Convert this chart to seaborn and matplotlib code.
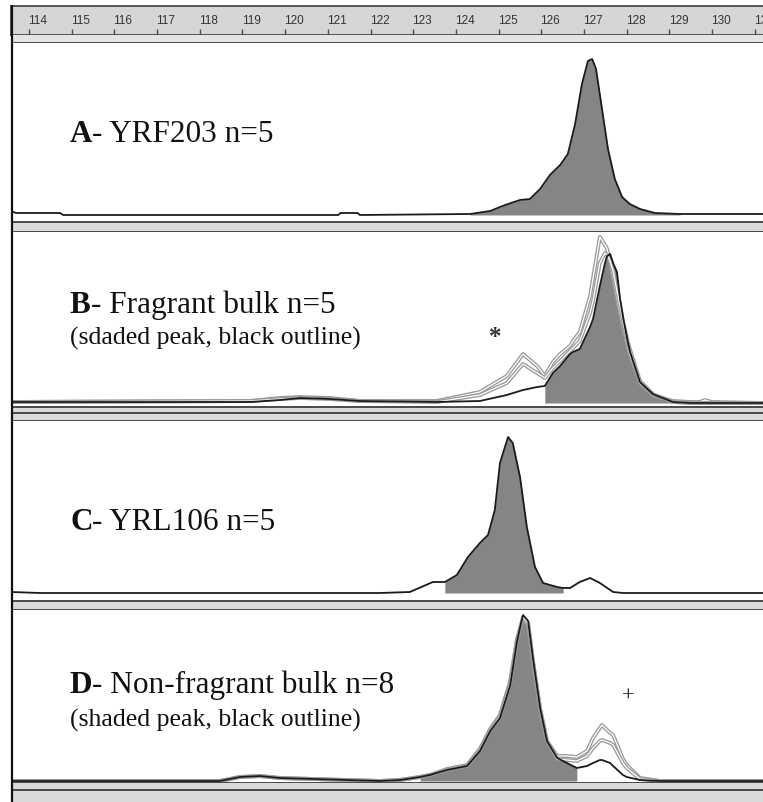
import numpy as np
import pandas as pd
import seaborn as sns
import matplotlib.pyplot as plt
from matplotlib.lines import Line2D

# size ruler (bp)
ruler_ticks = list(range(114, 132))

# A- YRF203 : fragment size vs. signal (px above baseline)
a_size = [113.58, 113.70, 114.73, 114.80, 121.24, 121.30, 121.70, 121.75, 124.33, 124.80,
          125.15, 125.50, 125.73, 125.97, 126.20, 126.44, 126.62, 126.79, 126.95, 127.09,
          127.19, 127.28, 127.42, 127.56, 127.72, 127.89, 128.07, 128.31, 128.66, 129.25, 131.19]
a_signal = [4, 2, 2, 0, 0, 2, 2, 0, 1, 4,
            10, 15, 16, 26, 40, 50, 61, 91, 131, 154,
            156, 146, 106, 66, 36, 18, 11, 6, 2, 1, 1]

# B- Fragrant bulk : black trace + two light traces
b_size = [113.58, 119.18, 119.88, 120.35, 121.05, 121.75, 123.55, 124.56, 125.19, 125.57,
          125.90, 126.08, 126.27, 126.44, 126.67, 126.74, 126.90, 127.14, 127.21, 127.37,
          127.49, 127.54, 127.61, 127.68, 127.77, 127.84, 127.92, 128.03, 128.08, 128.31,
          128.61, 128.66, 129.08, 129.48, 129.71, 129.83, 129.99, 131.19]
b_black = [1, 1, 3, 5, 4, 2, 1, 2, 8, 13,
           16, 17, 30, 37, 49, 51, 54, 76, 84, 117,
           140, 147, 149, 140, 131, 105, 84, 60, 51, 21,
           9, 8, 1, 0, 0, 0, 0, 0]
b_light1 = [1, 2, 5, 6, 5, 2, 2, 11, 27, 49,
            37, 27, 41, 49, 57, 62, 71, 107, 125, 166,
            158, 154, 140, 125, 105, 90, 75, 55, 48, 20,
            8, 7, 2, 1, 1, 3, 1, 0]
b_light2 = [1, 2, 4, 5, 4, 2, 1, 8, 20, 39,
            30, 25, 35, 42, 52, 55, 62, 90, 102, 140,
            150, 148, 142, 132, 112, 98, 80, 60, 53, 22,
            9, 8, 1, 0, 0, 0, 0, 0]

# C- YRL106
c_size = [113.58, 114.26, 122.22, 122.92, 123.46, 123.74, 124.02, 124.28, 124.56, 124.75,
          124.91, 125.03, 125.22, 125.33, 125.50, 125.66, 125.85, 126.04, 126.37, 126.51,
          126.67, 126.90, 127.14, 127.37, 127.68, 127.91, 131.19]
c_signal = [1, 0, 0, 1, 11, 11, 18, 36, 50, 58,
            83, 130, 156, 150, 116, 66, 26, 10, 6, 5,
            5, 11, 15, 10, 1, 0, 0]

# D- Non-fragrant bulk : black trace + two light traces
d_size = [113.58, 118.47, 118.94, 119.41, 119.88, 122.22, 122.69, 123.16, 123.39, 123.79,
          124.26, 124.56, 124.80, 125.03, 125.27, 125.43, 125.57, 125.69, 125.80, 125.97,
          126.13, 126.37, 126.60, 126.83, 127.07, 127.21, 127.37, 127.42, 127.61, 127.68,
          127.91, 128.00, 128.31, 128.78, 131.19]
d_black = [0, 0, 4, 5, 3, 0, 1, 4, 6, 11,
           15, 30, 50, 63, 96, 140, 166, 160, 123, 73,
           40, 23, 18, 13, 15, 18, 21, 21, 18, 15,
           6, 4, 1, 0, 0]
d_light1 = [0, 0, 4, 5, 3, 0, 1, 4, 6, 12,
            16, 32, 52, 66, 100, 142, 162, 156, 120, 72,
            40, 25, 25, 24, 30, 43, 53, 56, 48, 46,
            22, 16, 3, 0, 0]
d_light2 = [0, 0, 4, 5, 3, 0, 1, 4, 6, 11,
            15, 31, 51, 64, 98, 141, 164, 158, 121, 72,
            40, 22, 21, 20, 25, 33, 40, 41, 38, 36,
            18, 13, 2, 0, 0]

W, H = 763, 803
X_LO, X_HI = 113.58, 131.19
DARK = '#4a4a4a'
FILL = '#858585'
SERIF = ['Liberation Serif', 'DejaVu Serif']

sns.set_theme(style='white')
plt.rcParams['font.family'] = ['Liberation Sans', 'DejaVu Sans']

fig = plt.figure(figsize=(W / 100, H / 100), dpi=100)
fig.patch.set_facecolor('white')


def px_axes(x0, y0, x1, y1):
    return fig.add_axes([x0 / W, 1 - y1 / H, (x1 - x0) / W, (y1 - y0) / H])


def band(y0, y1, lines, color='#dadada'):
    ax = px_axes(11, y0, 763, y1)
    ax.set_xlim(0, 1)
    ax.set_ylim(y1, y0)
    ax.axhspan(y0, y1, color=color, lw=0)
    for yy in lines:
        ax.axhline(yy, color=DARK, lw=1.4)
    ax.axis('off')
    return ax


def panel(y0, y1, base):
    ax = px_axes(11, y0, 763, y1)
    ax.set_xlim(X_LO, X_HI)
    ax.set_ylim(-(y1 - base), base - y0)
    ax.set_xticks([])
    ax.set_yticks([])
    for s in ax.spines.values():
        s.set_visible(False)
    return ax


def light(ax, x, y):
    df = pd.DataFrame({'size': x, 'signal': y})
    sns.lineplot(data=df, x='size', y='signal', ax=ax, color='#9a9a9a', lw=2.8,
                 sort=False, estimator=None)
    sns.lineplot(data=df, x='size', y='signal', ax=ax, color='white', lw=0.9,
                 sort=False, estimator=None)


def dark(ax, x, y, lw=1.3):
    df = pd.DataFrame({'size': x, 'signal': y})
    sns.lineplot(data=df, x='size', y='signal', ax=ax, color='#1a1a1a', lw=lw,
                 sort=False, estimator=None)


def shade(ax, x, y, lo, hi):
    x = np.array(x)
    ax.fill_between(x, 0, y, where=(x >= lo) & (x <= hi), color=FILL, lw=0)


# ruler
rul = px_axes(11, 7, 763, 36)
rul.set_facecolor('#d6d6d6')
rul.set_xlim(X_LO, X_HI)
rul.set_ylim(0, 1)
rul.set_yticks([])
rul.set_xticks(ruler_ticks)
rul.tick_params(axis='x', direction='in', length=4, width=1, color=DARK,
                bottom=True, labelbottom=False)
for s in ['top', 'bottom', 'left']:
    rul.spines[s].set_color(DARK)
    rul.spines[s].set_linewidth(1.3)
rul.spines['right'].set_visible(False)
for t in ruler_ticks:
    rul.text(t - 0.02, 0.5, str(t), ha='left', va='center', fontsize=8.5, color='#333333',
             clip_on=True)

band(36, 44, [43.5], color='#e4e4e4')

# panel A
ax_a = panel(44, 222, 216)
shade(ax_a, a_size, a_signal, 124.3, 129.3)
dark(ax_a, a_size, a_signal)
band(222, 233, [222.5, 232.5])

# panel B
ax_b = panel(233, 407, 404)
shade(ax_b, b_size, b_black, 126.08, 129.1)
light(ax_b, b_size, b_light1)
light(ax_b, b_size, b_light2)
dark(ax_b, b_size, b_black)
band(407, 422, [407.5, 413.5, 421.5])

# panel C
ax_c = panel(422, 601, 594)
shade(ax_c, c_size, c_signal, 123.74, 126.51)
dark(ax_c, c_size, c_signal)
band(601, 611, [601.5, 610.5])

# panel D
ax_d = panel(611, 783, 782)
shade(ax_d, d_size, d_black, 123.16, 126.83)
light(ax_d, d_size, d_light1)
light(ax_d, d_size, d_light2)
dark(ax_d, d_size, d_black)
band(783, 803, [783.5, 791.5])

fig.add_artist(Line2D([11.5 / W, 11.5 / W], [0, 1 - 7 / H], color='#111111', lw=1.6))

# labels
renderer = fig.canvas.get_renderer()


def label(x, y, bold, rest, size=22.5):
    t = fig.text(x / W, 1 - y / H, bold, fontsize=size, fontweight='bold',
                 family=SERIF, va='baseline', ha='left', color='#111111')
    bb = t.get_window_extent(renderer)
    fig.text(bb.x1 / W, 1 - y / H, rest, fontsize=size, family=SERIF,
             va='baseline', ha='left', color='#111111')


def note(x, y, txt, size=18.5):
    fig.text(x / W, 1 - y / H, txt, fontsize=size, family=SERIF,
             va='baseline', ha='left', color='#111111')


label(70, 142, 'A', '- YRF203 n=5')
label(70, 313, 'B', '- Fragrant bulk n=5')
note(70, 345, '(sdaded peak, black outline)')
label(70, 530, 'C', '- YRL106 n=5')
label(70, 693, 'D', '- Non-fragrant bulk n=8')
note(70, 727, '(shaded peak, black outline)')

fig.text(495 / W, 1 - 338 / H, '*', fontsize=18, fontweight='bold', family=SERIF,
         ha='center', va='center', color='#333333')
fig.text(628 / W, 1 - 697 / H, '+', fontsize=16, family=SERIF, ha='center', va='center',
         color='#111111')

fig.savefig('out.png', dpi=100, facecolor='white')
